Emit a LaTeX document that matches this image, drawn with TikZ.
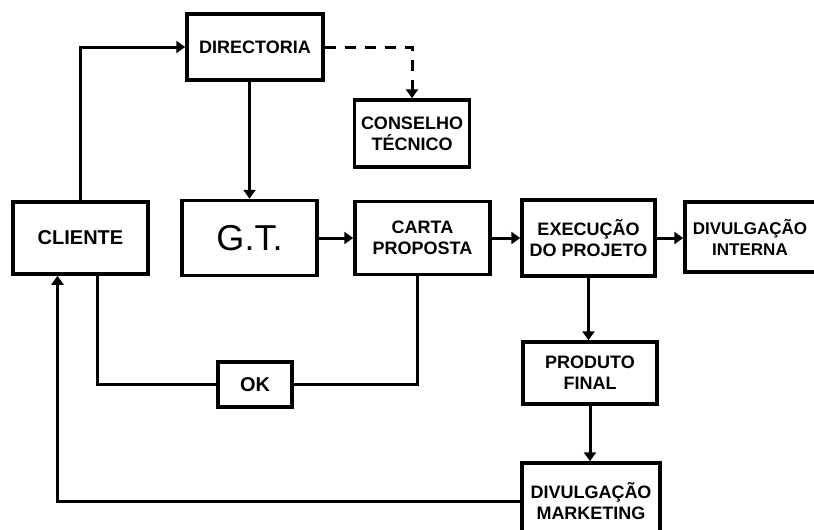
\documentclass[tikz,border=0pt]{standalone}
\usepackage{fontspec}
\setmainfont{Liberation Sans}
\usetikzlibrary{arrows.meta}
\begin{document}
\begin{tikzpicture}[x=1pt,y=-1pt,
  box/.style={draw, line width=3.5pt, font=\bfseries\fontsize{18}{21}\selectfont, align=center, inner sep=0pt},
  lbl/.style={font=\bfseries\fontsize{17}{21}\selectfont, align=center, inner sep=0pt},
  conn/.style={line width=3pt},
  arr/.style={conn, -{Triangle[width=12pt,length=9pt]}},
  dsh/.style={arr, dash pattern=on 11pt off 9pt},
]
\useasboundingbox (0,0) rectangle (814,530);
\node[box, minimum width=136pt, minimum height=66pt] (dir) at (255,47) {DIRECTORIA};
\node[box, minimum width=115pt, minimum height=67pt] (cons) at (412,133.5) {CONSELHO\\TÉCNICO};
\node[box, minimum width=135pt, minimum height=72pt, font=\bfseries\fontsize{20}{24}\selectfont] (cliente) at (80.5,238) {CLIENTE};
\node[box, minimum width=135pt, minimum height=75pt, font=\fontsize{36}{40}\selectfont] (gt) at (249.5,238) {G.T.};
\node[box, minimum width=135pt, minimum height=73pt] (carta) at (422.5,238) {CARTA\\PROPOSTA};
\node[box, minimum width=133pt, minimum height=76pt] (exec) at (588.5,238) {EXECUÇÃO\\DO PROJETO};
\node[box, minimum width=154pt, minimum height=70pt] (inter) at (762,237) {};
\node[lbl] (intertext) at ([xshift=-12pt]inter.center) {DIVULGAÇÃO\\INTERNA};
\node[box, minimum width=134pt, minimum height=62pt] (prod) at (590,373) {PRODUTO\\FINAL};
\node[box, minimum width=138pt, minimum height=77pt] (mkt) at (591,501.5) {DIVULGAÇÃO\\MARKETING};
\node[box, minimum width=74pt, minimum height=45pt, font=\bfseries\fontsize{20}{24}\selectfont] (ok) at (255,384.5) {OK};

\draw[arr] (cliente.north) |- (dir.west);
\draw[arr] (gt.north |- dir.south) -- (gt.north);
\draw[dsh] (dir.east) -| (cons.north);
\draw[arr] (gt.east) -- (carta.west);
\draw[arr] (carta.east) -- (exec.west);
\draw[arr] (exec.east) -- (exec.east -| inter.west);
\draw[arr] (exec.south) -- (exec.south |- prod.north);
\draw[arr] (prod.south) -- (prod.south |- mkt.north);
\draw[arr] (mkt.west) -| ([xshift=-23pt]cliente.south);
\draw[conn] ([xshift=-5pt]carta.south) |- (ok.east);
\draw[conn] (ok.west) -| ([xshift=17pt]cliente.south);
\end{tikzpicture}
\end{document}
